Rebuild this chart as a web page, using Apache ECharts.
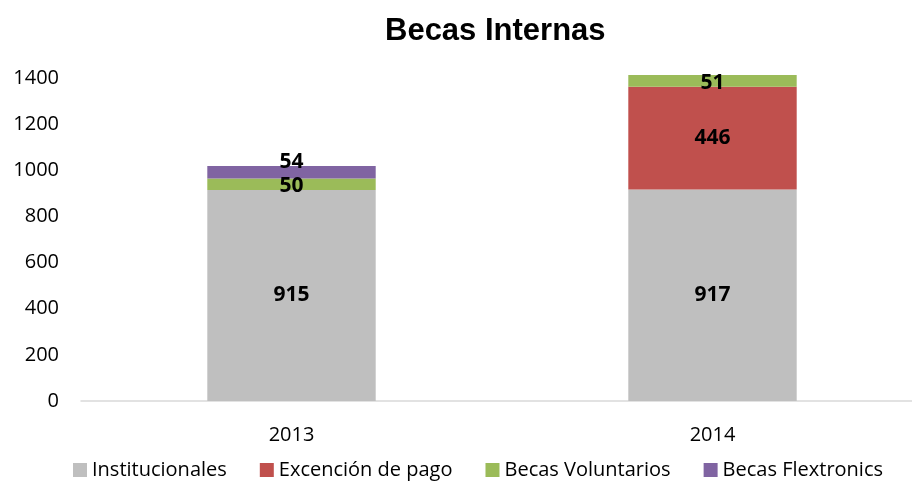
<!DOCTYPE html>
<html>
<head>
    <meta charset="UTF-8">
    <title>Becas Internas</title>
    <script src="https://cdn.jsdelivr.net/npm/echarts@6/dist/echarts.min.js"></script>
</head>
<body style="margin:0">
<div id="chartDom" style="width: 912px;height:481px;"></div>

<script type="text/javascript">
    var years = ['2013', '2014'];
    var institucionales = [915, 917];
    var excencion = [null, 446];
    var voluntarios = [50, 51];
    var flextronics = [54, null];
    var yTicks = [0, 200, 400, 600, 800, 1000, 1200, 1400];

    var myChart = echarts.init(document.getElementById('chartDom'));
    var font = 'Open Sans';

    function mk(name, data, color, extra) {
        var s = {
            name: name,
            type: 'bar',
            stack: 'total',
            barWidth: '40%',
            clip: false,
            data: data,
            itemStyle: { color: color },
            label: {
                show: true,
                position: 'inside',
                color: '#000',
                fontFamily: font,
                fontWeight: 'bold',
                fontSize: 21
            }
        };
        if (extra) Object.assign(s.label, extra);
        return s;
    }

    var option = {
        animation: false,
        title: {
            text: 'Becas Internas',
            left: 380,
            top: 11,
            textStyle: { fontFamily: 'Liberation Sans', fontWeight: 'bold', fontSize: 31, color: '#000' }
        },
        grid: { left: 81, width: 842, top: 32, bottom: 80, containLabel: false, outerBoundsMode: 'none' },
        legend: {
            top: 455,
            left: 68,
            itemWidth: 14,
            itemHeight: 14,
            itemGap: 33,
            icon: 'rect',
            textStyle: { fontFamily: font, fontSize: 20, color: '#000' },
            data: ['Institucionales', 'Excención de pago', 'Becas Voluntarios', 'Becas Flextronics']
        },
        xAxis: {
            type: 'category',
            data: years,
            axisLine: { lineStyle: { color: '#d9d9d9', width: 1.5 } },
            axisTick: { show: false },
            axisLabel: { color: '#000', fontFamily: font, fontSize: 20, margin: 24 }
        },
        yAxis: {
            type: 'value',
            min: 0,
            max: 1600,
            interval: 200,
            splitLine: { show: false },
            axisLine: { show: false },
            axisTick: { show: false },
            axisLabel: {
                color: '#000', fontFamily: font, fontSize: 20, margin: 22,
                formatter: function (v) { return yTicks.indexOf(v) >= 0 ? String(v) : ''; }
            }
        },
        series: [
            mk('Institucionales', institucionales, '#bfbfbf'),
            mk('Excención de pago', excencion, '#c0504d'),
            mk('Becas Voluntarios', voluntarios, '#9bbb59', { offset: [0, 2] }),
            mk('Becas Flextronics', flextronics, '#8064a2', { offset: [0, -10] })
        ]
    };

    myChart.setOption(option);
</script>
</body>
</html>
